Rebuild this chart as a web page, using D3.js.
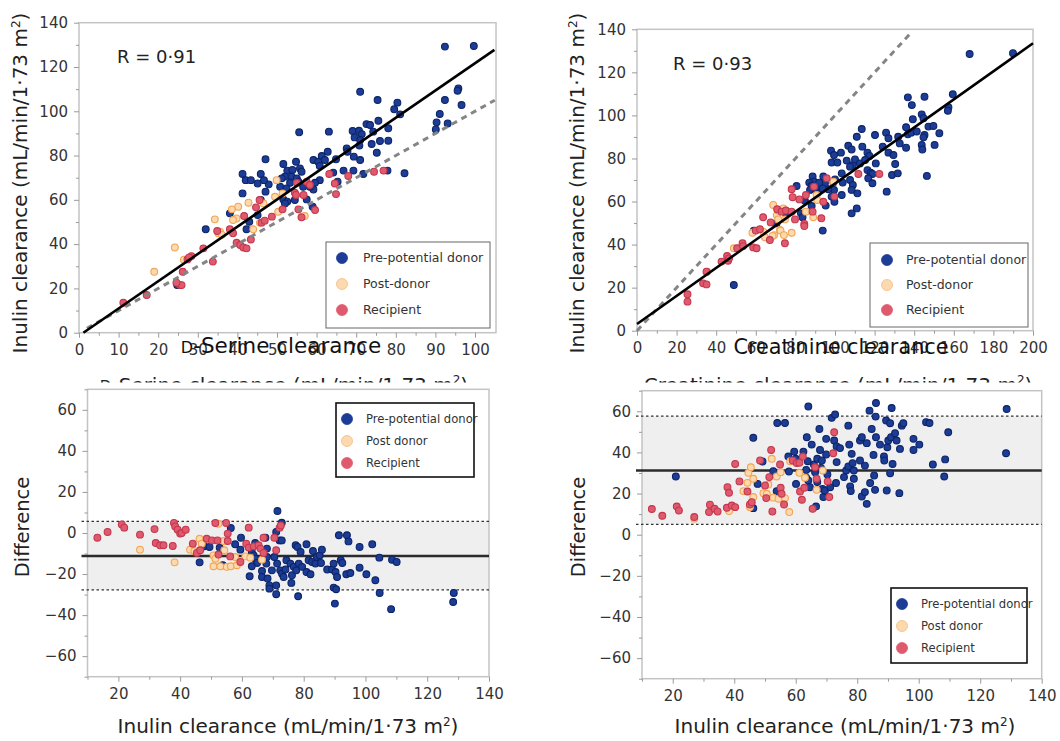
<!DOCTYPE html>
<html>
<head>
<meta charset="utf-8">
<script src="https://cdn.jsdelivr.net/npm/d3@7"></script>
<style>
  body { margin: 0; background: #fff; }
  svg { display: block; }
</style>
</head>
<body>
<div id="chart"></div>
<script>
const W = 1060, H = 741;

// ---- data: D-serine clearance (x) vs inulin clearance (y)
const serinePre = [[92.4,129.2],[99.7,129.5],[95.8,110.3],[95.6,109.3],[96.6,102.8],[92.4,105.1],[91.1,98.8],[90.3,95.0],[93.1,94.5],[90.1,91.8],
  [80.4,103.9],[79.6,100.9],[81.1,98.6],[75.4,105.1],[71.0,108.8],[75.6,95.7],[72.6,94.2],[73.5,93.8],[69.1,91.1],[70.7,91.2],
  [71.4,89.7],[69.6,88.2],[71.0,87.0],[70.8,84.5],[74.3,90.8],[73.9,85.2],[76.0,86.6],[78.1,92.3],[78.1,86.7],[75.2,81.3],
  [67.6,83.2],[67.8,81.7],[69.4,79.5],[71.0,78.0],[66.8,73.2],[69.3,73.2],[71.8,71.7],[77.9,73.2],[82.2,72.0],[63.1,90.8],
  [62.8,81.7],[61.3,79.8],[59.2,78.0],[60.4,77.2],[62.1,78.0],[64.9,78.3],[60.8,75.3],[64.2,72.3],[65.3,68.2],[60.8,68.9],
  [59.6,67.7],[59.2,64.7],[58.3,65.9],[57.5,60.2],[59.0,56.9],[55.6,90.5],[54.8,77.2],[51.6,76.2],[52.6,73.2],[53.9,73.5],
  [55.8,74.2],[56.2,72.7],[52.0,70.5],[51.2,69.7],[53.7,70.5],[55.0,69.7],[55.4,68.2],[53.3,67.7],[50.8,65.9],[52.4,65.2],
  [56.6,65.9],[51.6,60.2],[52.6,59.2],[54.5,59.9],[52.0,58.4],[47.1,78.3],[45.9,71.7],[47.1,63.7],[47.9,67.0],[46.7,68.9],
  [45.1,67.4],[41.3,71.7],[42.1,68.9],[43.4,68.9],[41.3,62.9],[43.0,50.1],[45.1,53.1],[42.3,46.7],[38.1,53.9],[32.0,46.7],
  [24.8,21.5],[45.9,59.9]];
const serinePost = [[24.2,38.5],[19.0,27.5],[34.3,51.2],[35.2,44.9],[35.6,45.6],[36.1,44.2],[38.6,55.7],[39.8,51.6],[40.2,56.9],[38.9,50.9],
  [42.8,58.7],[44.0,46.7],[46.6,58.4],[45.7,49.7],[49.5,61.4],[49.9,68.9],[50.3,54.6],[56.2,52.4],[57.0,52.7],[51.4,62.9],[26.5,33.0]];
const serineRec = [[11.2,13.5],[17.1,17.0],[25.5,21.5],[25.9,21.5],[24.6,22.6],[26.2,27.5],[27.4,33.1],[28.4,34.6],[27.8,34.0],[31.4,38.1],
  [33.8,32.1],[34.9,45.9],[38.1,46.7],[38.9,44.9],[39.8,40.6],[40.7,39.6],[41.5,38.5],[42.3,38.1],[41.7,52.7],[43.4,42.1],
  [44.7,56.6],[45.6,59.9],[46.1,49.7],[46.9,50.6],[48.7,52.4],[51.4,55.7],[54.5,63.2],[54.8,62.2],[55.0,67.7],[56.7,62.2],
  [55.4,55.7],[56.2,52.1],[57.5,68.2],[58.3,66.7],[59.6,55.4],[63.2,71.7],[64.6,67.4],[64.9,62.6],[68.0,70.8],[74.5,72.7],[76.9,73.2]];
const serineFit = [[1.1,0],[104.9,127.7]];
const serineIdentity = [[2,2],[105,105]];

// ---- data: creatinine clearance (x) vs inulin clearance (y)
const creatPre = [[168.0,128.5],[189.9,128.9],[159.5,109.8],[157.3,103.8],[157.0,102.2],[136.8,108.4],[138.8,104.8],[145.2,108.7],[139.3,98.2],[143.8,100.5],
  [144.7,98.7],[145.2,90.9],[144.7,89.8],[143.8,86.3],[144.1,84.2],[147.2,94.8],[149.7,95.1],[152.7,91.7],[150.3,86.3],[146.4,71.9],
  [135.9,94.5],[136.8,91.2],[138.5,92.0],[141.3,92.5],[135.9,85.0],[131.9,90.1],[132.7,87.0],[125.8,92.0],[127.0,89.4],[124.1,85.5],
  [127.0,82.7],[129.5,81.6],[130.4,77.4],[128.8,72.3],[131.7,73.1],[126.1,64.6],[120.2,90.9],[113.5,93.7],[111.0,90.1],[113.8,85.5],
  [106.7,85.9],[108.4,84.2],[98.0,83.6],[99.5,81.6],[103.0,82.7],[98.3,78.1],[101.2,78.1],[105.9,79.0],[109.0,77.0],[110.1,79.6],
  [112.6,77.7],[116.4,82.7],[117.4,81.2],[115.2,79.3],[120.6,77.7],[116.4,74.6],[118.0,73.4],[118.9,72.8],[116.8,70.8],[118.9,68.5],
  [107.6,76.2],[107.6,70.0],[109.0,67.7],[108.4,65.4],[111.3,63.8],[111.0,56.8],[108.4,54.5],[103.4,73.1],[103.9,68.8],[103.4,63.0],
  [100.0,70.3],[99.2,68.8],[99.5,65.4],[98.3,62.3],[99.7,59.9],[96.6,65.7],[94.1,71.6],[94.9,68.5],[93.8,66.1],[95.3,58.1],
  [93.8,46.5],[88.7,71.6],[89.4,69.2],[87.0,68.8],[88.2,67.2],[87.4,65.4],[90.3,65.7],[91.0,63.8],[92.0,68.8],[84.8,60.4],
  [88.2,57.9],[80.6,67.2],[82.8,54.5],[83.6,52.7],[59.0,46.5],[75.2,54.5],[70.5,49.9],[48.9,21.2]];
const creatPost = [[48.9,38.3],[58.3,45.5],[63.8,46.0],[64.6,43.4],[68.8,58.4],[70.6,53.7],[71.3,55.8],[71.3,51.7],[72.2,46.8],[73.9,56.8],
  [74.7,51.7],[72.5,46.5],[74.2,44.4],[69.3,44.4],[78.1,45.5],[85.3,55.3],[89.0,52.7],[90.7,63.0],[91.0,60.7],[99.2,69.2],[35.4,27.4],[68.5,44.0]];
const creatRec = [[25.5,16.9],[25.5,13.5],[33.4,22.0],[35.1,21.5],[35.1,27.4],[42.7,32.1],[45.5,34.7],[46.0,32.5],[46.5,33.6],[50.6,38.3],
  [53.3,40.6],[53.6,39.3],[58.7,38.7],[60.4,38.3],[60.0,46.5],[62.1,47.1],[63.7,52.7],[67.5,50.3],[67.1,42.1],[70.8,56.4],
  [73.0,55.3],[74.7,40.6],[75.2,55.8],[78.1,65.7],[78.6,62.0],[79.8,51.7],[78.1,55.3],[82.0,61.0],[85.3,63.0],[84.5,49.6],
  [84.5,48.6],[88.7,55.3],[89.4,66.9],[93.1,52.2],[94.1,59.9],[95.8,70.8],[99.7,62.3],[111.8,72.8],[122.4,72.8]];
const creatFit = [[0,3.1],[200,133.5]];
const creatIdentity = [[0,0],[138.5,138.5]];

// ---- data: Bland-Altman, D-serine (inulin clearance vs difference)
const baSerinePre = [[46.3,-14.3],[47.8,-6.5],[49.5,-6.8],[52.8,-7.1],[53.8,-15.7],[56.4,2.4],[57.8,-5.5],[59.7,-2.3],[59.5,-8.1],[63.2,-9.2],
  [63.8,-10.9],[64.3,-12.5],[64.9,-14.6],[63.2,-16.2],[62.5,-21.1],[64.3,-4.9],[67.6,-2.3],[68.1,-7.6],[68.1,-11.7],[67.9,-14.9],
  [66.5,-18.5],[66.5,-21.4],[68.3,-22.2],[68.9,-25.5],[68.9,-27.1],[69.7,-18.2],[71.1,0.5],[71.5,10.7],[72.2,-3.6],[72.9,-3.6],
  [72.9,5.0],[71.4,-14.9],[72.4,-18.2],[73.0,-19.8],[73.5,-21.4],[74.1,-17.8],[71.1,-25.5],[71.1,-29.8],[70.5,-11.7],[74.4,-13.3],
  [75.7,-14.9],[76.8,-16.5],[76.2,-20.6],[76.0,-24.3],[77.4,-6.0],[78.0,-6.8],[77.6,-18.2],[78.4,-14.9],[78.2,-30.8],[79.0,-9.2],
  [79.5,-16.5],[80.9,-5.5],[80.9,-19.0],[81.6,-13.3],[82.2,-20.1],[82.7,-14.1],[83.0,-8.8],[83.8,-14.9],[84.3,-11.7],[85.2,-10.9],
  [85.6,-14.6],[85.9,-8.1],[87.6,-17.8],[89.2,-17.8],[89.7,-14.9],[90.3,-19.0],[90.8,-21.4],[91.4,-1.1],[92.0,-13.3],[92.5,-14.6],
  [89.7,-26.6],[90.5,-27.4],[90.1,-34.4],[93.8,-20.1],[95.1,-19.5],[94.0,-1.1],[94.5,-4.1],[98.1,-6.8],[98.1,-16.9],[100.3,-20.1],
  [102.2,-5.5],[103.2,-23.0],[104.5,-12.0],[104.6,-29.2],[108.6,-13.0],[110.1,-14.1],[108.3,-37.1],[128.6,-29.2],[128.4,-33.6]];
const baSerinePost = [[27.0,-8.1],[38.2,-14.3],[43.2,-8.1],[44.6,-8.8],[46.3,-2.8],[47.0,-5.2],[50.8,-10.9],[51.4,-12.5],[50.8,-16.2],[52.4,4.5],
  [54.1,-3.9],[54.3,-8.4],[53.0,-16.2],[55.1,-16.5],[56.4,-16.2],[58.4,-15.7],[57.8,-11.7],[61.1,-11.4],[62.7,-12.0],[66.5,-13.0]];
const baSerineRec = [[13.2,-2.3],[16.5,0.5],[21.1,4.2],[21.9,2.6],[27.0,-0.8],[31.7,1.9],[32.1,-4.9],[33.5,-6.0],[34.6,-6.0],[37.6,-6.3],
  [38.0,4.9],[38.4,3.2],[39.2,1.6],[40.0,-0.3],[40.5,0],[41.8,1.6],[44.1,-5.2],[45.4,-9.7],[46.5,-8.4],[48.6,-2.8],
  [50.3,-3.6],[51.4,4.9],[52.1,-3.6],[52.4,-10.5],[54.9,4.9],[55.4,-0.3],[55.4,-3.9],[56.2,-11.4],[59.5,-14.1],[61.4,-5.2],
  [62.2,2.6],[62.2,-7.1],[63.8,-6.5],[65.4,-6.0],[66.0,-7.6],[67.0,-9.7],[70.5,-2.3],[71.1,-8.4],[72.2,2.6],[72.6,3.7],[67.0,-2.3]];
const baSerineLines = [5.7, -11.2, -27.7]; // upper limit, mean, lower limit

// ---- data: Bland-Altman, creatinine (inulin clearance vs difference)
const baCreatPre = [[21.0,28.3],[46.2,47.1],[46.2,12.9],[47.6,24.7],[49.2,35.6],[52.7,30.9],[53.8,21.2],[54.0,54.3],[56.5,54.3],[57.6,38.0],
  [57.8,30.7],[59.5,40.4],[60.0,36.9],[60.1,24.7],[62.5,40.4],[63.4,31.5],[63.6,47.4],[64.1,62.3],[63.9,35.7],[63.4,27.7],
  [64.1,26.4],[64.6,23.1],[65.2,43.8],[65.9,34.1],[66.3,30.4],[66.6,13.7],[67.0,36.9],[67.0,25.6],[67.7,51.4],[67.9,41.2],
  [68.2,32.5],[68.5,36.1],[68.7,22.3],[69.0,18.3],[69.5,21.5],[69.9,39.0],[69.9,46.6],[70.3,29.3],[71.2,23.1],[71.7,56.8],
  [72.5,45.8],[72.8,58.4],[73.1,25.1],[73.3,35.3],[73.3,42.9],[74.4,42.1],[75.7,28.0],[76.4,31.2],[77.1,33.2],[77.1,53.0],
  [77.4,43.8],[77.7,23.5],[77.9,21.2],[78.2,39.3],[78.5,34.8],[78.9,31.2],[78.9,27.2],[80.9,36.1],[80.9,45.8],[81.5,47.4],
  [81.5,18.6],[82.5,20.7],[82.5,33.6],[83.1,44.5],[83.1,15.0],[84.0,60.3],[84.2,25.1],[84.7,51.4],[85.3,38.8],[85.5,28.8],
  [85.8,21.8],[86.1,64.0],[86.0,57.4],[86.1,47.4],[87.4,43.8],[88.7,38.0],[88.8,36.1],[89.4,55.5],[89.6,21.5],[89.8,42.5],
  [90.1,45.8],[90.7,54.2],[90.7,29.9],[91.0,47.4],[91.2,61.6],[91.5,34.4],[92.3,49.3],[92.8,45.8],[93.7,20.2],[93.9,41.7],
  [94.5,53.0],[95.0,54.2],[98.3,41.2],[98.3,46.6],[100.2,43.8],[102.4,54.7],[103.5,54.3],[104.6,34.1],[108.3,28.3],[108.6,36.6],
  [109.6,49.8],[128.4,39.6],[128.6,61.1]];
const baCreatPost = [[27.0,7.8],[38.3,11.5],[43.0,21.2],[44.3,25.2],[44.6,30.1],[45.4,32.8],[46.2,27.2],[46.2,18.3],[45.1,13.4],[49.5,20.2],
  [50.6,19.9],[51.1,24.4],[52.2,36.9],[52.7,18.0],[53.8,28.3],[54.4,17.5],[55.1,30.4],[56.5,17.8],[57.9,11.0],[58.2,35.7],
  [61.2,30.1],[63.0,27.7],[66.8,21.8],[68.8,31.2]];
const baCreatRec = [[13.2,12.5],[16.6,9.2],[21.3,13.7],[22.0,11.8],[27.0,8.6],[32.1,14.6],[31.8,11.0],[33.6,12.6],[34.6,11.3],[37.8,23.1],
  [38.3,20.4],[37.6,13.1],[39.2,14.2],[40.3,13.4],[40.3,34.4],[41.7,25.9],[44.3,21.0],[45.1,14.7],[45.7,15.8],[48.4,36.1],
  [50.0,23.9],[50.4,17.8],[51.4,28.0],[52.0,41.2],[52.4,11.3],[54.9,34.1],[55.1,22.8],[55.4,19.9],[56.2,14.7],[59.0,36.1],
  [60.3,34.8],[61.2,35.0],[61.4,21.0],[62.0,17.0],[62.3,38.0],[62.8,22.8],[65.5,12.6],[66.3,32.8],[66.8,27.2],[70.4,25.9],
  [70.9,18.3],[72.5,49.8],[72.2,39.6]];
const baCreatLines = [57.6, 31.2, 5.0];

// ---- ticks
const serineTicks = d3.range(0, 101, 10);
const creatTicks = d3.range(0, 201, 20);
const clearanceYTicks = d3.range(0, 141, 20);
const baXTicks = d3.range(20, 141, 20);
const baYTicks = d3.range(-60, 61, 20);

const groups = [
  { name: 'pre',  fill: '#1c3c96', stroke: '#0b2468', legendStroke: '#1c3c96' },
  { name: 'post', fill: '#fcd9ae', stroke: '#f2a554', legendStroke: '#f5bd7c' },
  { name: 'rec',  fill: '#e05a6d', stroke: '#c4364d', legendStroke: '#e05a6d' }
];

const FONT = 'DejaVu Sans, Verdana, sans-serif';

const svg = d3.select('#chart').append('svg')
  .attr('width', W).attr('height', H)
  .attr('font-family', FONT);

svg.append('defs').append('clipPath').attr('id', 'cutTitle')
  .append('rect').attr('x', 0).attr('y', 0).attr('width', W).attr('height', 382.5);

function drawPanel(p) {
  const x = d3.scaleLinear().domain(p.xDomain).range([p.left, p.right]);
  const y = d3.scaleLinear().domain(p.yDomain).range([p.bottom, p.top]);
  const g = svg.append('g');

  // Bland-Altman band
  if (p.limits) {
    g.append('rect')
      .attr('x', p.left).attr('width', p.right - p.left)
      .attr('y', y(p.limits[0])).attr('height', y(p.limits[2]) - y(p.limits[0]))
      .attr('fill', '#efefef');
  }

  // frame
  g.append('rect')
    .attr('x', p.left).attr('y', p.top)
    .attr('width', p.right - p.left).attr('height', p.bottom - p.top)
    .attr('fill', 'none').attr('stroke', '#c4c4c4').attr('stroke-width', 1.5);

  // axes
  const xAxis = g.append('g').attr('transform', `translate(0,${p.bottom})`)
    .call(d3.axisBottom(x).tickValues(p.xTicks).tickSize(5).tickPadding(7));
  const xMinor = g.append('g').attr('transform', `translate(0,${p.bottom})`)
    .call(d3.axisBottom(x).tickValues(p.xMinor).tickSize(3).tickFormat(''));
  const yAxis = g.append('g').attr('transform', `translate(${p.left},0)`)
    .call(d3.axisLeft(y).tickValues(p.yTicks).tickSize(5).tickPadding(6));
  const yMinor = g.append('g').attr('transform', `translate(${p.left},0)`)
    .call(d3.axisLeft(y).tickValues(p.yMinor).tickSize(3).tickFormat(''));
  [xAxis, xMinor, yAxis, yMinor].forEach(a => {
    a.select('.domain').remove();
    a.selectAll('line').attr('stroke', '#9a9a9a');
    a.selectAll('text').attr('font-family', FONT).attr('font-size', 15).attr('fill', '#333');
  });

  // limits of agreement and mean
  if (p.limits) {
    p.limits.forEach((v, i) => {
      g.append('line')
        .attr('x1', p.left - 6).attr('x2', p.right)
        .attr('y1', y(v)).attr('y2', y(v))
        .attr('stroke', i === 1 ? '#2b2b2b' : '#333')
        .attr('stroke-width', i === 1 ? 2.5 : 1.3)
        .attr('stroke-dasharray', i === 1 ? null : '2.5,2.5');
    });
  }

  const line = d3.line().x(d => x(d[0])).y(d => y(d[1]));

  // points
  p.series.forEach((pts, i) => {
    const grp = groups[i];
    g.append('g').selectAll('circle').data(pts).join('circle')
      .attr('cx', d => x(d[0])).attr('cy', d => y(d[1])).attr('r', 3.4)
      .attr('fill', grp.fill).attr('stroke', grp.stroke).attr('stroke-width', 1.1);
  });

  // identity and regression lines
  if (p.identity) {
    g.append('path').attr('d', line(p.identity))
      .attr('fill', 'none').attr('stroke', '#858585').attr('stroke-width', 3)
      .attr('stroke-dasharray', '6,5');
  }
  if (p.fit) {
    g.append('path').attr('d', line(p.fit))
      .attr('fill', 'none').attr('stroke', '#000').attr('stroke-width', 2.6);
  }

  // legend
  const L = p.legend;
  g.append('rect').attr('x', L.x).attr('y', L.y).attr('width', L.w).attr('height', L.h)
    .attr('fill', '#fff').attr('stroke', L.stroke).attr('stroke-width', L.sw);
  L.labels.forEach((lab, i) => {
    const cy = L.y + L.first + i * L.step;
    g.append('circle').attr('cx', L.x + L.cx).attr('cy', cy).attr('r', 5.5)
      .attr('fill', groups[i].fill).attr('stroke', groups[i].legendStroke)
      .attr('stroke-width', 0.8);
    g.append('text').attr('x', L.x + L.tx).attr('y', cy).attr('dy', '0.35em')
      .attr('font-size', L.fs).attr('fill', '#333').text(lab);
  });

  // y title
  g.append('text')
    .attr('transform', `translate(${p.yTitle.x},${p.yTitle.y}) rotate(-90)`)
    .attr('text-anchor', 'middle').attr('dy', '0.35em')
    .attr('font-size', p.yTitle.size).attr('fill', '#222')
    .call(t => p.yTitle.parts(t));

  return { x, y, g };
}

function inulinLabel(t) {
  t.append('tspan').text('Inulin clearance (mL/min/1·73 m');
  t.append('tspan').attr('font-size', '0.6em').attr('dy', '-0.6em').text('2');
  t.append('tspan').attr('dy', '0.36em').text(')');
}
function textParts(str) { return t => t.text(str); }

const legendTop = ['Pre-potential donor', 'Post-donor', 'Recipient'];
const legendBA = ['Pre-potential donor', 'Post donor', 'Recipient'];

// panel 1
drawPanel({
  left: 79, right: 496, top: 22.7, bottom: 332.7,
  xDomain: [0, 105.3], yDomain: [0, 140],
  xTicks: serineTicks, xMinor: d3.range(5, 105, 10),
  yTicks: clearanceYTicks, yMinor: d3.range(10, 140, 20),
  series: [serinePre, serinePost, serineRec],
  fit: serineFit, identity: serineIdentity,
  legend: { x: 326, y: 242, w: 164, h: 86, stroke: '#666', sw: 1, first: 16, step: 26, cx: 16, tx: 37, fs: 12.5, labels: legendTop },
  yTitle: { x: 20, y: 183, size: 20, parts: inulinLabel }
});
// panel 2
drawPanel({
  left: 637, right: 1033, top: 29.3, bottom: 330.7,
  xDomain: [0, 200], yDomain: [0, 140],
  xTicks: creatTicks, xMinor: d3.range(10, 200, 20),
  yTicks: clearanceYTicks, yMinor: d3.range(10, 140, 20),
  series: [creatPre, creatPost, creatRec],
  fit: creatFit, identity: creatIdentity,
  legend: { x: 870, y: 243, w: 158, h: 84, stroke: '#666', sw: 1, first: 17, step: 25, cx: 17, tx: 36, fs: 12.5, labels: legendTop },
  yTitle: { x: 577, y: 183, size: 20, parts: inulinLabel }
});
// panel 3
drawPanel({
  left: 87.5, right: 489, top: 389.3, bottom: 676.7,
  xDomain: [10, 140], yDomain: [-70, 70],
  xTicks: baXTicks, xMinor: d3.range(10, 140, 20),
  yTicks: baYTicks, yMinor: d3.range(-70, 71, 20),
  series: [baSerinePre, baSerinePost, baSerineRec],
  limits: baSerineLines,
  legend: { x: 336, y: 403, w: 138, h: 74, stroke: '#111', sw: 1.6, first: 16, step: 22, cx: 11, tx: 30, fs: 11.6, labels: legendBA },
  yTitle: { x: 22, y: 527, size: 19.5, parts: textParts('Difference') }
});
// panel 4
drawPanel({
  left: 642, right: 1041.7, top: 390.7, bottom: 678.7,
  xDomain: [10, 140], yDomain: [-70, 70],
  xTicks: baXTicks, xMinor: d3.range(10, 140, 20),
  yTicks: baYTicks, yMinor: d3.range(-70, 71, 20),
  series: [baCreatPre, baCreatPost, baCreatRec],
  limits: baCreatLines,
  legend: { x: 891, y: 588, w: 136, h: 75, stroke: '#111', sw: 1.6, first: 16, step: 22, cx: 11, tx: 30, fs: 11.6, labels: legendBA },
  yTitle: { x: 578, y: 527, size: 19.5, parts: textParts('Difference') }
});

// correlation labels
svg.append('text').attr('x', 117).attr('y', 63).attr('font-size', 18).attr('fill', '#222').text('R = 0·91');
svg.append('text').attr('x', 673).attr('y', 70).attr('font-size', 18).attr('fill', '#222').text('R = 0·93');

// clipped x titles of top panels (cut off by the lower panels)
function clippedTitle(cx, lead, rest) {
  const t = svg.append('text').attr('x', cx).attr('y', 392).attr('text-anchor', 'middle')
    .attr('font-size', 20).attr('fill', '#222').attr('clip-path', 'url(#cutTitle)');
  if (lead) t.append('tspan').attr('font-size', 15).text(lead);
  t.append('tspan').text(rest + ' (mL/min/1·73 m');
  t.append('tspan').attr('font-size', 12).attr('dy', -8).text('2');
  t.append('tspan').attr('dy', 8).text(')');
}
clippedTitle(284, 'D', '-Serine clearance');
clippedTitle(838, null, 'Creatinine clearance');

// panel titles drawn over the tick labels, as in the source figure
const t1 = svg.append('text').attr('x', 281).attr('y', 353).attr('text-anchor', 'middle')
  .attr('font-size', 21.5).attr('fill', '#111');
t1.append('tspan').attr('font-size', 16).text('D');
t1.append('tspan').text('-Serine clearance');
svg.append('text').attr('x', 841).attr('y', 354).attr('text-anchor', 'middle')
  .attr('font-size', 20.8).attr('fill', '#111').text('Creatinine clearance');

// bottom x titles
[[288, 733], [845, 733]].forEach(([cx, cy]) => {
  const t = svg.append('text').attr('x', cx).attr('y', cy).attr('text-anchor', 'middle')
    .attr('font-size', 20).attr('fill', '#222');
  inulinLabel(t);
});
</script>
</body>
</html>
